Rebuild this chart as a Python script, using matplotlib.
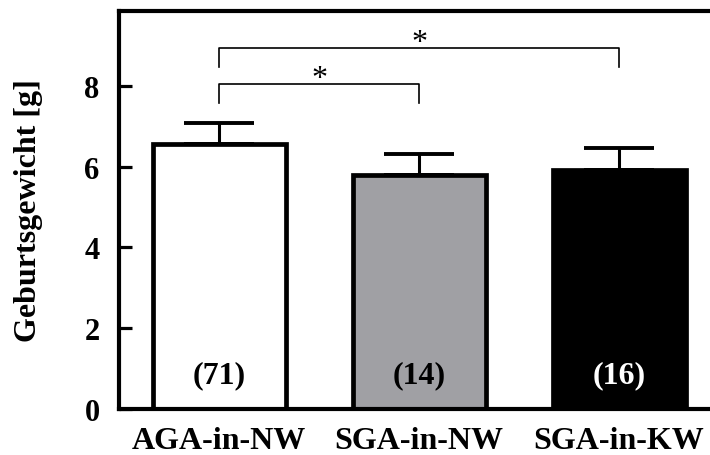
import matplotlib
matplotlib.use('Agg')
import matplotlib.pyplot as plt

plt.rcParams['font.family'] = ['Liberation Serif', 'DejaVu Serif']
plt.rcParams['font.weight'] = 'bold'

groups = ['AGA-in-NW', 'SGA-in-NW', 'SGA-in-KW']
means = [6.55, 5.79, 5.92]
sds = [0.53, 0.51, 0.53]
counts = ['(71)', '(14)', '(16)']
colors = ['white', '#a0a0a4', 'black']
count_colors = ['black', 'black', 'white']
yticks = [0, 2, 4, 6, 8]
# significance brackets: (from, to, height)
sig = [(0, 1, 8.04), (0, 2, 8.94)]

fig = plt.figure(figsize=(7.1, 4.56), dpi=100)
ax = fig.add_axes([119/710., 1-410/456., 600/710., 398/456.])

x = range(len(groups))
ax.errorbar(x, means, yerr=[[0]*3, sds], fmt='none', ecolor='k',
            elinewidth=2.2, capsize=25, capthick=2.8, zorder=1)
ax.bar(x, means, width=0.665, color=colors, edgecolor='k', linewidth=3.4, zorder=2)

for i in x:
    ax.text(i, 0.84, counts[i], ha='center', va='center', fontsize=23,
            fontweight='bold', color=count_colors[i], zorder=3)

for a, b, h in sig:
    ax.plot([a, a, b, b], [h-0.47, h, h, h-0.47], 'k', lw=1.2)
    ax.text((a+b)/2., h-0.22, '*', ha='center', va='bottom', fontsize=23,
            fontweight='normal')

ax.set_xlim(-0.5, 2.5)
ax.set_ylim(0, 9.85)
ax.set_yticks(yticks)
ax.set_yticklabels([str(t) for t in yticks], fontsize=22, fontweight='bold')
ax.set_xticks(list(x))
ax.set_xticklabels(groups, fontsize=23, fontweight='bold')
ax.tick_params(axis='y', direction='in', length=9, width=2.3, pad=14)
ax.tick_params(axis='x', length=0, pad=12)
for s in ['left', 'bottom', 'top']:
    ax.spines[s].set_linewidth(3.0)
ax.spines['right'].set_visible(False)
ax.set_ylabel('Geburtsgewicht [g]', fontsize=23, fontweight='bold')
ax.yaxis.set_label_coords(-0.127, 0.5)

fig.savefig('out.png', dpi=100)
